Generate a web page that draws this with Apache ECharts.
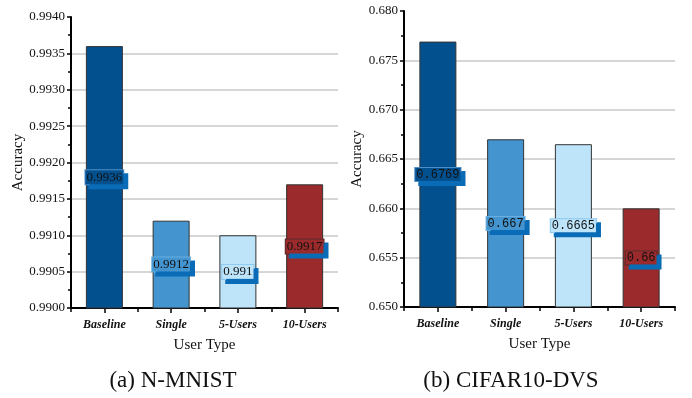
<!DOCTYPE html>
<html><head><meta charset="utf-8">
<script src="https://cdn.jsdelivr.net/npm/echarts@6/dist/echarts.min.js"></script>
<style>html,body{margin:0;padding:0;background:#fff}#c{width:692px;height:398px}</style>
</head><body><div id="c"></div>
<script>
var categories = ['Baseline', 'Single', '5-Users', '10-Users'];
var mnistValues = [0.9936, 0.9912, 0.991, 0.9917];
var cifarValues = [0.6769, 0.667, 0.6665, 0.66];
var mnistLabels = ['0.9936', '0.9912', '0.991', '0.9917'];
var cifarLabels = ['0.6769', '0.667', '0.6665', '0.66'];
var barColors = ['#03508f', '#4394cf', '#bee4fa', '#9a2a2b'];
var boxBorders = ['#4d8fc8', '#6aaee0', '#8cc8ee', '#5a2a2a'];
var captions = ['(a) N-MNIST', '(b) CIFAR10-DVS'];

var serif = '"Liberation Serif", "Times New Roman", serif';
var chart = echarts.init(document.getElementById('c'), null, {renderer: 'canvas'});

function makeData(vals, labels) {
  return vals.map(function (v, i) {
    return {
      value: v,
      itemStyle: {color: barColors[i]},
      label: {
        formatter: labels[i],
        backgroundColor: barColors[i],
        borderColor: boxBorders[i]
      }
    };
  });
}
function grayLines(n) {
  var a = [];
  for (var i = 0; i < n; i++) a.push(i === n - 1 ? 'rgba(0,0,0,0)' : '#c8c8c8');
  return a;
}
function yAxis(gi, min, max, interval, dec, gap, nLines) {
  return {
    type: 'value', gridIndex: gi, min: min, max: max, interval: interval,
    name: 'Accuracy', nameLocation: 'middle', nameGap: gap,
    nameTextStyle: {fontFamily: serif, fontSize: 15, color: '#111'},
    axisLine: {show: true, lineStyle: {color: '#000', width: 2}},
    axisTick: {show: true, length: 4, lineStyle: {color: '#000', width: 1.5}},
    minorTick: {show: true, splitNumber: 2, length: 3, lineStyle: {color: '#000', width: 1.5}},
    axisLabel: {fontFamily: serif, fontSize: 13, color: '#111', margin: 6,
      formatter: function (v) { return v.toFixed(dec); }},
    splitLine: {show: true, lineStyle: {color: grayLines(nLines), width: 1.5}}
  };
}
function xAxes(gi) {
  return [{
    type: 'category', gridIndex: gi, data: categories,
    name: 'User Type', nameLocation: 'middle', nameGap: 30,
    nameTextStyle: {fontFamily: serif, fontSize: 15, color: '#111'},
    axisLine: {show: true, lineStyle: {color: '#000', width: 2}},
    axisTick: {show: true, alignWithLabel: true, length: 5, lineStyle: {color: '#000', width: 1.5}},
    axisLabel: {fontFamily: serif, fontSize: 12, fontWeight: 'bold', fontStyle: 'italic', color: '#111', margin: 11}
  }, {
    type: 'category', gridIndex: gi, data: categories, position: 'bottom',
    axisLine: {show: false},
    axisTick: {show: true, length: 4, lineStyle: {color: '#000', width: 1.5}},
    axisLabel: {show: false}
  }];
}
function barSeries(xi, yi, vals, labels, font, fs) {
  return {
    type: 'bar', xAxisIndex: xi, yAxisIndex: yi, barWidth: 37,
    data: makeData(vals, labels),
    itemStyle: {borderColor: '#333', borderWidth: 1},
    label: {
      show: true, position: 'inside', color: '#111', fontFamily: font, fontSize: fs,
      padding: [1, 1, 0, 1], borderWidth: 1,
      shadowColor: '#0a6cb6', shadowBlur: 0, shadowOffsetX: 4, shadowOffsetY: 4
    }
  };
}
var option = {
  animation: false,
  backgroundColor: '#fff',
  grid: [
    {left: 71, top: 17, width: 267, height: 291},
    {left: 404, top: 11, width: 271, height: 296}
  ],
  xAxis: xAxes(0).concat(xAxes(1)),
  yAxis: [
    yAxis(0, 0.99, 0.994, 0.0005, 4, 42, 9),
    yAxis(1, 0.65, 0.68, 0.005, 3, 37, 7)
  ],
  series: [
    barSeries(0, 0, mnistValues, mnistLabels, serif, 13),
    barSeries(2, 1, cifarValues, cifarLabels, '"Liberation Mono", monospace', 12)
  ],
  graphic: [
    {type: 'text', x: 173, y: 381, style: {text: captions[0], font: '23px ' + serif, fill: '#111', textAlign: 'center', textVerticalAlign: 'middle'}},
    {type: 'text', x: 511, y: 381, style: {text: captions[1], font: '23px ' + serif, fill: '#111', textAlign: 'center', textVerticalAlign: 'middle'}}
  ]
};
chart.setOption(option);
</script></body></html>
